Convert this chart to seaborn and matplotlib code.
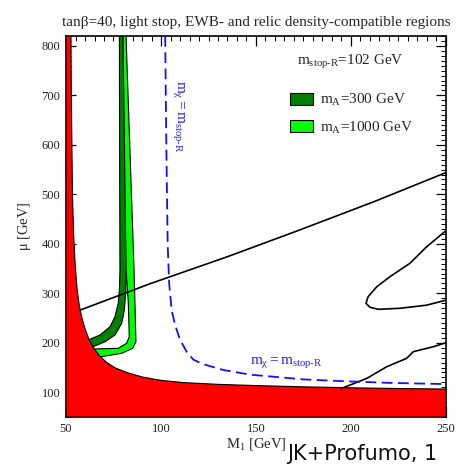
import numpy as np
import pandas as pd
import matplotlib
matplotlib.use("Agg")
import matplotlib.pyplot as plt
from matplotlib.patches import Patch
from matplotlib.ticker import MultipleLocator
import seaborn as sns

# ---------------- data ----------------
# excluded (red) region boundary: M1 [GeV], mu [GeV]
red_x = [50, 52.6, 52.8, 53.1, 53.4, 54.0, 54.8, 55.8, 57.0, 58.5, 60.3, 62.3, 64.8,
         67.8, 71.5, 76.0, 82.0, 90.0, 100.0, 112.0, 130.0, 150.0, 175.0, 200.0,
         225.0, 250.0, 250.0, 50.0]
red_mu = [820, 820, 700, 600, 500, 420, 360, 310, 275, 248, 225, 205, 188,
          173, 160, 149, 140, 131, 124, 119.5, 116, 113.5, 111, 109,
          107.5, 106.5, 50, 50]

# mA = 300 GeV band (dark green)
dark_x = [61.7, 67.9, 73.2, 75.8, 77.5, 78.1, 78.4, 78.2, 78.1,
          80.0, 81.9, 81.4, 80.7, 79.3, 75.8, 70.5, 63.5]
dark_mu = [205.6, 215.7, 232.5, 252.7, 279.8, 306.7, 347, 600, 820,
           820, 347, 300, 266, 239, 215.7, 202, 190.8]

# mA = 1000 GeV band (light green)
light_x = [64.5, 77.5, 81.9, 83.3, 82.8, 81.6, 80.0,
           81.6, 85.8, 86.3, 86.8, 85.1, 79.3, 66.5]
light_mu = [187.4, 188.8, 198.9, 212.3, 279.8, 349, 820,
            820, 349, 279.8, 202, 188.8, 178.7, 170.6]

# m_chi = m_stop-R (blue dashed)
chi_x = [102.2, 102.8, 103.5, 104.3, 105.6, 107.5, 110.0, 113.5, 117.0, 122.0,
         132.8, 147.0, 159.0, 175.0, 194.0, 220.0, 250.0]
chi_mu = [820, 600, 400, 320, 266, 235, 206, 182, 166, 157,
          145, 135.5, 131.5, 126, 122.7, 119, 116.5]

# EWB-compatible contours (black)
ewb1_x = [57.4, 94.0, 135.0, 173.0, 212.0, 250.0]
ewb1_mu = [266, 319, 374, 428, 485, 544]

ewb2_x = [249.8, 239.8, 231.0, 220.5, 213.5, 209.0, 207.9, 210.0, 214.4, 225.8, 239.8, 249.8]
ewb2_mu = [426, 394, 360.6, 333.6, 313, 293, 279.8, 271.7, 267.6, 269.7, 276, 286]

ewb3_x = [195.1, 208.3, 218.8, 229.3, 232.8, 243.3, 249.8]
ewb3_mu = [108, 128, 151.6, 168.6, 182, 192, 200]

x_ticks = [50, 100, 150, 200, 250]
y_ticks = [100, 200, 300, 400, 500, 600, 700, 800]

title = "tan\u03b2=40, light stop, EWB- and relic density-compatible regions"
legend_labels = [r"$\mathrm{m_A}$=300 GeV", r"$\mathrm{m_A}$=1000 GeV"]

# ---------------- style ----------------
sns.set_theme(style="ticks")
plt.rcParams["font.family"] = ["Liberation Serif", "DejaVu Serif"]
plt.rcParams["mathtext.fontset"] = "custom"
plt.rcParams["mathtext.rm"] = "Liberation Serif"
plt.rcParams["mathtext.it"] = "Liberation Serif:italic"
plt.rcParams["mathtext.bf"] = "Liberation Serif:bold"

fig = plt.figure(figsize=(4.6, 4.65), dpi=100)
ax = fig.add_axes([66 / 460, 1 - 417 / 465, 380 / 460, 381 / 465])

# bands
ax.fill(dark_x, dark_mu, facecolor="#008000", edgecolor="black", lw=0.8, zorder=2)
ax.fill(light_x, light_mu, facecolor="#00ff00", edgecolor="black", lw=0.8, zorder=3)
# excluded region
ax.fill(red_x, red_mu, facecolor="#ff0000", edgecolor="black", lw=0.8, zorder=4)

# black EWB contours
for xs, ys in [(ewb1_x, ewb1_mu), (ewb2_x, ewb2_mu), (ewb3_x, ewb3_mu)]:
    sns.lineplot(x=xs, y=ys, sort=False, estimator=None, color="black", lw=1.2,
                 ax=ax, zorder=5)

# blue dashed line
sns.lineplot(x=chi_x, y=chi_mu, sort=False, estimator=None, color="#1010ff", lw=1.3,
             linestyle=(0, (6, 3)), ax=ax, zorder=6)

ax.set_xlim(50, 250)
ax.set_ylim(50, 820)
ax.set_xticks(x_ticks)
ax.set_yticks(y_ticks)
ax.xaxis.set_minor_locator(MultipleLocator(5))
ax.yaxis.set_minor_locator(MultipleLocator(10))
ax.tick_params(which="both", direction="in", top=True, right=True, color="black",
               labelsize=9, labelcolor="#222222")
ax.tick_params(which="major", length=7, width=0.9, pad=4)
ax.tick_params(which="minor", length=3.5, width=0.7)
for s in ax.spines.values():
    s.set_color("black")
    s.set_linewidth(1.2)

ax.set_xlabel(r"$\mathrm{M_1}$ [GeV]", fontsize=10.5, labelpad=1)
ax.set_ylabel(r"$\mathrm{\mu}$ [GeV]", fontsize=10.5, labelpad=6)
ax.set_title(title, fontsize=11, pad=7)

# annotations
ax.text(109.2, 731, r"$\mathrm{m_{\chi}=m_{stop\text{-}R}}$", color="#2020ff",
        rotation=-90, ha="center", va="top", fontsize=11, zorder=7)
ax.text(166, 161, r"$\mathrm{m_{\chi}=m_{stop\text{-}R}}$", color="#2020ff",
        ha="center", va="center", fontsize=11, zorder=7)
ax.text(0.608, 0.932, r"$\mathrm{m_{stop\text{-}R}}$=102 GeV", transform=ax.transAxes,
        ha="left", va="center", fontsize=11)

handles = [Patch(facecolor="#008000", edgecolor="black", lw=0.8),
           Patch(facecolor="#00ff00", edgecolor="black", lw=0.8)]
ax.legend(handles, legend_labels, loc="upper left", bbox_to_anchor=(0.589, 0.853),
          frameon=False, fontsize=11, borderpad=0, borderaxespad=0,
          handlelength=1.5, handleheight=0.8, handletextpad=0.5, labelspacing=0.75)

fig.text(287 / 460, 0.002, "JK+Profumo, 1", family="DejaVu Sans", fontsize=15,
         ha="left", va="bottom", color="#111111")

fig.savefig("out.png", dpi=100)
